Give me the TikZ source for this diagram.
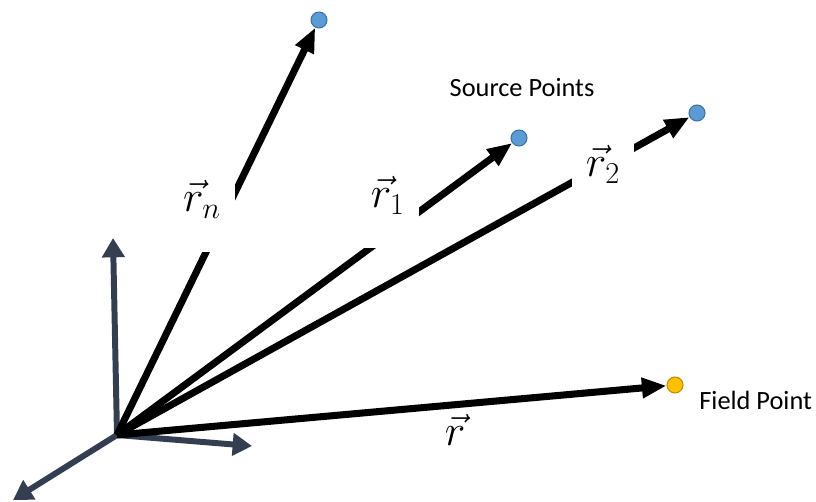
\documentclass[tikz,border=0pt]{standalone}
\usepackage{amsmath}
\usepackage{fontspec}
\setmainfont{Carlito}
\usepackage{tikz}
\usetikzlibrary{arrows.meta}

\definecolor{axisgray}{RGB}{51,63,80}
\definecolor{srcblue}{RGB}{91,155,213}
\definecolor{srcedge}{RGB}{65,113,156}
\definecolor{fieldgold}{RGB}{255,192,0}
\definecolor{fieldedge}{RGB}{188,140,0}

\begin{document}
\begin{tikzpicture}[
		axis/.style={-{Triangle[length=11pt, width=12.5pt]}, line width=3.4pt, color=axisgray},
		vec/.style={-{Triangle[length=14pt, width=11pt]}, line width=4pt},
		src/.style={circle, fill=srcblue, draw=srcedge, line width=0.6pt, inner sep=0pt, minimum size=0.32cm},
		fld/.style={src, fill=fieldgold, draw=fieldedge},
		lbl/.style={fill=white, inner xsep=8pt, inner ysep=4pt, text depth=19pt, anchor=base, font=\fontsize{26}{30}\selectfont},
		txt/.style={font=\fontsize{15}{18}\selectfont}
	]
		\useasboundingbox (0, 0) rectangle (16.32, 10.02);

		\coordinate (O) at (2.34, 1.32);
		\coordinate (X) at (5.04, 1.10);
		\coordinate (Y) at (2.26, 5.26);
		\coordinate (Z) at (0.26, 0.02);

		% points
		\node[src] (Sn) at (6.38, 9.62) {};
		\node[src] (S1) at (10.38, 7.26) {};
		\node[src] (S2) at (13.94, 7.76) {};
		\node[fld] (F) at (13.50, 2.32) {};

		% axes
		\draw[axis] (O) -- (X);
		\draw[axis] (O) -- (Y);
		\draw[axis] (O) -- (Z);

		% position vectors
		\draw[vec] (O) -- (Sn);
		\draw[vec] (O) -- (S1);
		\draw[vec] (O) -- (S2);
		\draw[vec] (O) -- (F);

		\node[lbl] (Ln) at (4.04, 5.78) {$\vec{r}_n$};
		\node[lbl] (L1) at (7.76, 5.86) {$\vec{r}_1$};
		\node[lbl] (L2) at (12.06, 6.48) {$\vec{r}_2$};
		\node[lbl, fill=none] (L) at (9.10, 1.12) {$\vec{r}$};

		\node[txt] (src) at (10.44, 8.26) {Source Points};
		\node[txt, anchor=west, inner sep=0pt] (fld) at (13.98, 2.02) {Field Point};
	\end{tikzpicture}
\end{document}
